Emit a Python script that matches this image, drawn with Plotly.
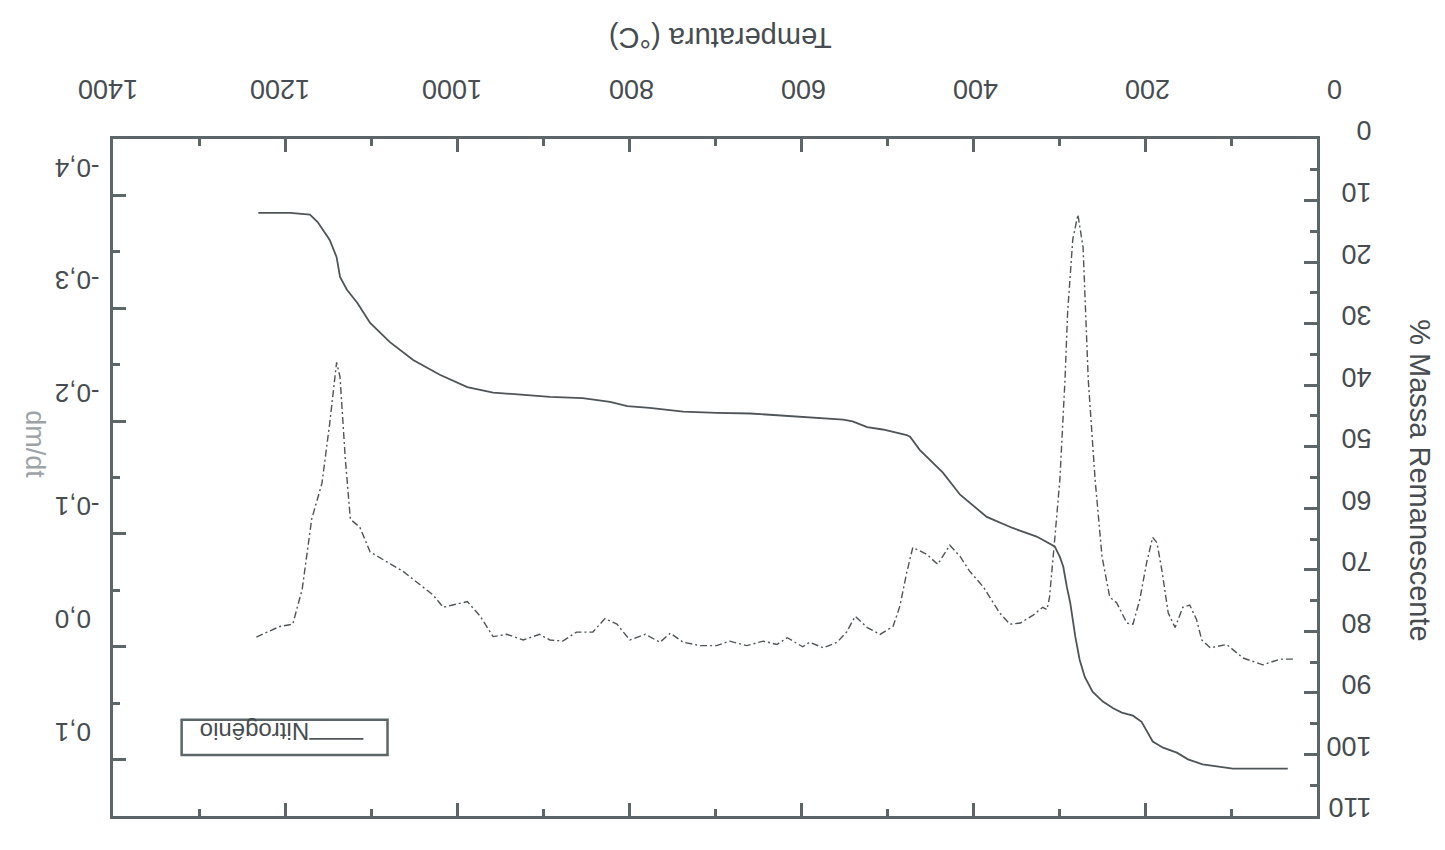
import plotly.graph_objects as go

# ---- data ----
temp_mass = [34, 98, 133, 150, 163, 179, 191, 198, 204, 214, 227, 237, 249, 261, 270, 276, 281,
             287, 291, 295, 299, 305, 326, 354, 384, 415, 435, 462, 473, 477, 505, 523, 540, 551,
             581, 621, 659, 698, 737, 776, 802, 822, 854, 892, 923, 958, 988, 1020, 1051, 1078,
             1101, 1116, 1128, 1136, 1140, 1148, 1162, 1171, 1194, 1231]
mass = [102.3, 102.3, 101.6, 100.8, 99.7, 98.9, 97.9, 96.3, 94.7, 93.7, 93.2, 92.5, 91.4, 89.8,
        87.4, 84.6, 80.9, 75.3, 72.7, 69.5, 67.9, 66.2, 64.6, 63.2, 61.4, 57.8, 54.2, 50.5, 48.4,
        48.1, 47.2, 46.8, 45.9, 45.6, 45.3, 45.0, 44.6, 44.5, 44.3, 43.7, 43.4, 42.7, 42.1, 41.9,
        41.6, 41.2, 40.3, 38.3, 35.9, 33.0, 29.9, 26.6, 24.5, 22.4, 19.2, 16.4, 13.5, 12.3, 12.0, 12.0]

temp_dm = [28, 43, 63, 86, 105, 124, 134, 140, 148, 156, 165, 173, 180, 186, 191, 198, 206, 214,
           221, 233, 241, 250, 258, 266, 272, 278, 284, 290, 293, 299, 305, 311, 314, 319, 330,
           345, 357, 369, 388, 404, 415, 427, 441, 454, 470, 477, 485, 493, 508, 523, 537, 547,
           558, 574, 590, 598, 616, 628, 644, 663, 683, 698, 717, 737, 752, 764, 781, 799, 814,
           828, 842, 861, 877, 892, 904, 923, 942, 958, 973, 988, 1005, 1016, 1028, 1043, 1063,
           1081, 1101, 1113, 1124, 1130, 1136, 1140, 1148, 1157, 1169, 1180, 1191, 1206, 1221, 1235]
dmdt = [0.011, 0.011, 0.016, 0.010, -0.002, 0.001, -0.006, -0.024, -0.037, -0.035, -0.017, -0.030,
        -0.066, -0.092, -0.097, -0.075, -0.042, -0.020, -0.021, -0.039, -0.044, -0.080, -0.148,
        -0.237, -0.354, -0.383, -0.361, -0.296, -0.237, -0.148, -0.095, -0.044, -0.033, -0.035,
        -0.028, -0.021, -0.020, -0.030, -0.053, -0.067, -0.080, -0.090, -0.073, -0.082, -0.088,
        -0.066, -0.036, -0.018, -0.011, -0.017, -0.027, -0.013, -0.004, 0.001, -0.004, 0.000,
        -0.008, -0.002, -0.005, -0.001, -0.005, -0.001, -0.001, -0.004, -0.012, -0.004, -0.011,
        -0.006, -0.020, -0.025, -0.013, -0.013, -0.005, -0.006, -0.011, -0.006, -0.011, -0.009,
        -0.027, -0.040, -0.037, -0.035, -0.046, -0.055, -0.067, -0.075, -0.084, -0.106, -0.113,
        -0.168, -0.239, -0.252, -0.198, -0.145, -0.113, -0.051, -0.020, -0.018, -0.013, -0.008]

x_ticks = [0, 200, 400, 600, 800, 1000, 1200, 1400]
dm_ticks = [-0.4, -0.3, -0.2, -0.1, 0.0, 0.1]
dm_tick_text = ["-0,4", "-0,3", "-0,2", "-0,1", "0,0", "0,1"]
mass_ticks = [0, 10, 20, 30, 40, 50, 60, 70, 80, 90, 100, 110]
legend_name = "Nitrogênio"

AX = "#5c6568"
TXT = "#464c4f"
LINE = "#4e5457"
FONT = "Liberation Sans, Arial, sans-serif"

fig = go.Figure()
fig.add_trace(go.Scatter(x=temp_dm, y=dmdt, mode="lines", yaxis="y",
                         line=dict(color=LINE, width=1.4, dash="7px,3px,2px,3px"),
                         showlegend=False))
fig.add_trace(go.Scatter(x=temp_mass, y=mass, mode="lines", yaxis="y2",
                         line=dict(color=LINE, width=1.8), name=legend_name,
                         showlegend=False))

fig.update_layout(
    width=1445, height=850,
    margin=dict(l=113, r=128, t=139, b=34),
    paper_bgcolor="white", plot_bgcolor="white",
    font=dict(family=FONT, color=TXT, size=26),
    xaxis=dict(side="top", range=[1400, 0], tickvals=x_ticks, tickangle=180,
               ticklabelstandoff=18, ticklabelshift=-25,
               ticks="inside", ticklen=13, tickwidth=2.5, tickcolor=AX,
               minor=dict(ticks="inside", dtick=100, ticklen=7, tickwidth=2.5, tickcolor=AX),
               showline=True, linecolor=AX, linewidth=3, mirror="ticks",
               showgrid=False, zeroline=False, tickfont=dict(size=27, color=TXT)),
    yaxis=dict(side="left", range=[0.15, -0.45], tickvals=dm_ticks, ticktext=dm_tick_text,
               tickangle=180, ticklabelstandoff=50, ticklabelshift=20,
               ticks="inside", ticklen=13, tickwidth=2.5, tickcolor=AX,
               minor=dict(ticks="inside", dtick=0.05, tick0=0, ticklen=7, tickwidth=2.5, tickcolor=AX),
               showline=True, linecolor=AX, linewidth=3,
               showgrid=False, zeroline=False, tickfont=dict(size=26, color=TXT)),
    yaxis2=dict(side="right", overlaying="y", range=[110, 0], tickvals=mass_ticks,
                tickangle=180, ticklabelstandoff=46,
                ticks="inside", ticklen=13, tickwidth=2.5, tickcolor=AX,
                minor=dict(ticks="inside", dtick=5, ticklen=7, tickwidth=2.5, tickcolor=AX),
                showline=True, linecolor=AX, linewidth=3,
                showgrid=False, zeroline=False, tickfont=dict(size=27, color=TXT)),
    showlegend=False,
)

# axis titles (upside-down like the scanned page)
fig.add_annotation(text="Temperatura (°C)", xref="paper", yref="paper", x=0.504, y=1.0,
                   yshift=101, xanchor="center", yanchor="middle",
                   textangle=180, showarrow=False, font=dict(size=29, color=TXT))
fig.add_annotation(text="% Massa Remanescente", xref="paper", yref="paper", x=1.0, y=0.496,
                   xshift=103, xanchor="center", yanchor="middle",
                   textangle=90, showarrow=False, font=dict(size=29, color=TXT))
fig.add_annotation(text="dm/dt", xref="paper", yref="paper", x=0.0, y=0.549,
                   xshift=-78, xanchor="center", yanchor="middle",
                   textangle=90, showarrow=False, font=dict(size=27, color="#9ca3a7"))

# legend box (drawn, upside-down)
fig.add_shape(type="rect", xref="paper", yref="paper", x0=0.057, x1=0.228, y0=0.090, y1=0.142,
              line=dict(color=AX, width=2.5), fillcolor="rgba(0,0,0,0)")
fig.add_shape(type="line", xref="paper", yref="paper", x0=0.163, x1=0.208, y0=0.114, y1=0.114,
              line=dict(color=LINE, width=1.8))
fig.add_annotation(text=legend_name, xref="paper", yref="paper", x=0.118, y=0.124,
                   xanchor="center", yanchor="middle",
                   textangle=180, showarrow=False, font=dict(size=24, color=TXT))

fig.write_html("out.html")
